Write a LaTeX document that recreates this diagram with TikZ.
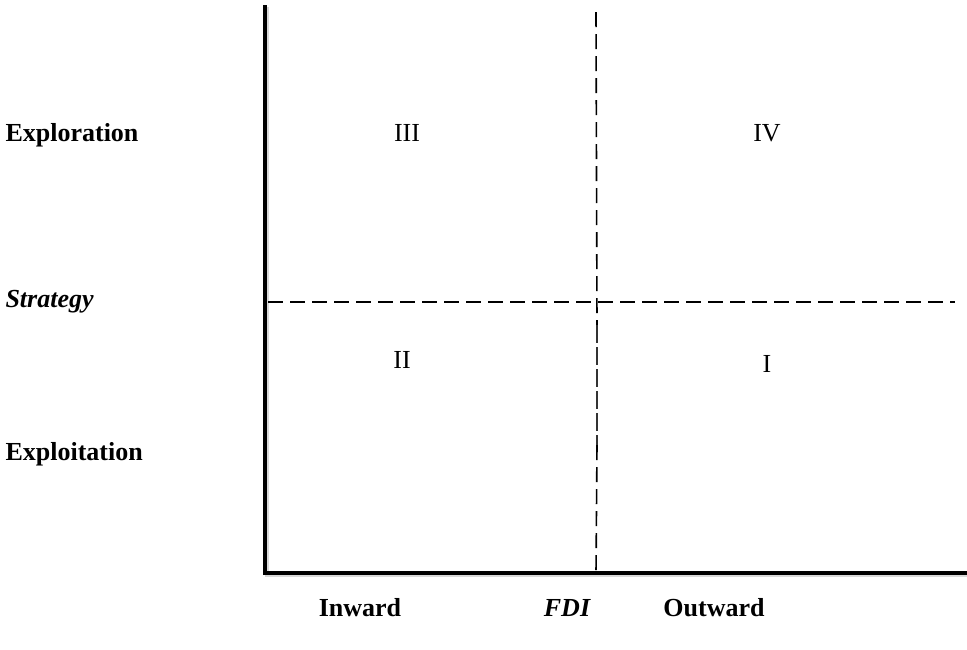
\documentclass[tikz,border=0pt]{standalone}
\usepackage{fontspec}
\setmainfont{Liberation Serif}
\usetikzlibrary{positioning}
\tikzset{every node/.style={font=\fontsize{26}{30}\selectfont}}
\tikzset{axis/.style={line width=4.5pt,black}}
\tikzset{axisshade/.style={line width=4.5pt,black!15}}
\tikzset{divider/.style={dash pattern=on 15pt off 7pt,line width=1.6pt}}
\tikzset{sidetext/.style={anchor=west,font=\fontsize{26}{30}\selectfont\bfseries}}
\tikzset{quadrant/.style={}}

\begin{document}
\begin{tikzpicture}[x=1pt,y=-1pt]
  \useasboundingbox (0,0) rectangle (967,649);
  % axes
  \coordinate (ytop) at (265,5);
  \coordinate (o) at (265,573);
  \coordinate (xend) at (967,573);
  \draw[axisshade] ([shift={(2,2)}]ytop) -- ([shift={(2,2)}]o) -- ([shift={(0,2)}]xend);
  \draw[axis] (ytop) -- (o) -- (xend);
  % dividers
  \coordinate (hl) at (268,302);
  \coordinate (hr) at (955,302);
  \coordinate (vt) at (596,12);
  \coordinate (vm1) at (597,325);
  \coordinate (vm2) at (597,445);
  \coordinate (vb) at (596,573);
  \draw[divider] (hl) -- (hr);
  \draw[divider] (vt) -- (vm1);
  \draw[divider,line width=1.2pt,black!80,dash pattern=on 18pt off 4pt] (vm1) -- (vm2);
  \draw[divider] (vm2) -- (vb);
  % quadrants
  \node[quadrant] (q3) at (407,133) {III};
  \node[quadrant] (q4) at (767,133) {IV};
  \node[quadrant] (q2) at (402,360) {II};
  \node[quadrant] (q1) at (767,364) {I};
  % strategy side
  \node[sidetext] (explor) at (2,135) {Exploration};
  \node[sidetext] (strat) at (2,302) {\itshape Strategy};
  \node[sidetext] (exploit) at (2,454) {Exploitation};
  % fdi side
  \node[font=\fontsize{26}{30}\selectfont\bfseries] (inward) at (360,608) {Inward};
  \node[font=\fontsize{26}{30}\selectfont\bfseries\itshape] (fdi) at (567,608) {FDI};
  \node[font=\fontsize{26}{30}\selectfont\bfseries] (outward) at (714,608) {Outward};
\end{tikzpicture}
\end{document}
